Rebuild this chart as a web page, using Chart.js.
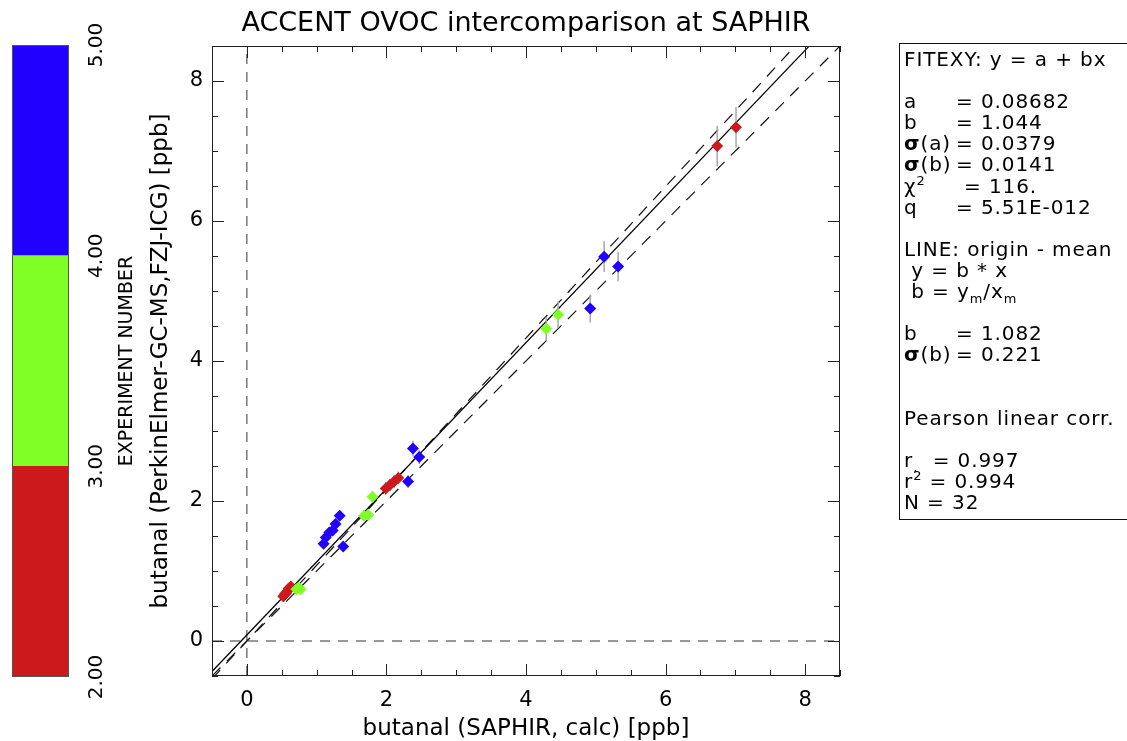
<!DOCTYPE html>
<html lang="en">
    <head>
        <title> ACCENT OVOC intercomparison at SAPHIR </title>

        <script src="https://cdn.jsdelivr.net/npm/chart.js@4.4.0/dist/chart.umd.min.js"></script>
        <style>
            body { margin: 0; width: 1127px; height: 741px; overflow: hidden; background: #fff; }
            #colorBar { position: absolute; left: 0; top: 0; }
            #scatter { position: absolute; left: 140px; top: 0; }
            #fitBox {
                position: absolute; left: 899px; top: 43px; width: 260px; height: 470px;
                border: 1px solid #111; padding: 5px 0 0 4px;
                font-family: 'DejaVu Sans', sans-serif; font-size: 20px; letter-spacing: 0.9px;
                line-height: 21.1px; color: #000;
                white-space: pre;
            }
            #fitBox .l { display: inline-block; width: 52px; }
            #fitBox .w { display: inline-block; width: 60px; }
            #fitBox b { font-weight: bold; }
            #fitBox sub, #fitBox sup { font-size: 13px; line-height: 0; }
        </style>

        <script defer>

            // experiment number -> colour bins (colour bar)
            const expBins = [2, 3, 4, 5];
            const expColors = ['#cc1a1c', '#80ff26', '#2200ff'];

            // butanal, SAPHIR calc (x) vs PerkinElmer GC-MS (y), ppb
            const saphirX = [0.52, 0.55, 0.58, 0.60, 0.63, 0.71, 0.74, 0.77,
                             1.10, 1.13, 1.18, 1.23, 1.27, 1.33, 1.38,
                             1.68, 1.74, 1.80, 1.99, 2.05, 2.11, 2.17,
                             2.31, 2.38, 2.47, 4.29, 4.46, 4.92, 5.12, 5.32,
                             6.74, 7.01];
            const gcmsY   = [0.64, 0.68, 0.71, 0.75, 0.78, 0.74, 0.76, 0.74,
                             1.39, 1.48, 1.55, 1.58, 1.67, 1.79, 1.35,
                             1.79, 1.80, 2.06, 2.18, 2.23, 2.28, 2.33,
                             2.28, 2.75, 2.63, 4.46, 4.66, 4.75, 5.49, 5.35,
                             7.07, 7.34];
            const gcmsErr = [0.03, 0.03, 0.03, 0.03, 0.03, 0.03, 0.03, 0.03,
                             0.06, 0.06, 0.06, 0.06, 0.07, 0.07, 0.05,
                             0.07, 0.07, 0.08, 0.09, 0.09, 0.09, 0.09,
                             0.09, 0.11, 0.10, 0.17, 0.19, 0.20, 0.22, 0.21,
                             0.29, 0.29];
            const expNo   = [2, 2, 2, 2, 2, 3, 3, 3,
                             4, 4, 4, 4, 4, 4, 4,
                             3, 3, 3, 2, 2, 2, 2,
                             4, 4, 4, 3, 3, 4, 4, 4,
                             2, 2];

            // fit results
            const fitA = 0.08682;
            const fitB = 1.044;
            const originB = 1.082;

            const axisRange = [-0.5, 8.5];
            const xTicks = [0, 2, 4, 6, 8];
            const yTicks = [0, 2, 4, 6, 8];
            const minorStep = 0.5;

            const chartTitle = 'ACCENT OVOC intercomparison at SAPHIR';
            const xTitle = 'butanal (SAPHIR, calc) [ppb]';
            const yTitle = 'butanal (PerkinElmer-GC-MS,FZJ-ICG) [ppb]';
            const barTitle = 'EXPERIMENT NUMBER';

            const family = "'DejaVu Sans', sans-serif";

            function binColor (e) {
                for (let i = 0; i < expColors.length; i++) {
                    if (e >= expBins[i] && e < expBins[i + 1]) return expColors[i];
                }
                return expColors[expColors.length - 1];
            }

            function lineThrough (a, b) {
                return axisRange.map(v => ({ x: v, y: a + b * v }));
            }

            // gray vertical error bars, under the markers
            const errorBars = {
                id: 'errorBars',
                beforeDatasetDraw (chart, args) {
                    if (args.index !== 0) return;
                    const { ctx, scales: { x, y } } = chart;
                    ctx.save();
                    ctx.strokeStyle = '#a9a9a9';
                    ctx.lineWidth = 1.5;
                    ctx.beginPath();
                    saphirX.forEach((xv, i) => {
                        const px = x.getPixelForValue(xv);
                        ctx.moveTo(px, y.getPixelForValue(gcmsY[i] - gcmsErr[i]));
                        ctx.lineTo(px, y.getPixelForValue(gcmsY[i] + gcmsErr[i]));
                    });
                    ctx.stroke();
                    ctx.restore();
                }
            };

            // box around the plot with inward ticks on all four sides
            const frameTicks = {
                id: 'frameTicks',
                afterDatasetsDraw (chart) {
                    const { ctx, chartArea: a, scales: { x, y } } = chart;
                    ctx.save();
                    ctx.strokeStyle = '#222';
                    ctx.lineWidth = 1;
                    ctx.strokeRect(a.left + 0.5, a.top + 0.5, a.width - 1, a.height - 1);
                    ctx.beginPath();
                    for (let v = axisRange[0]; v <= axisRange[1] + 1e-9; v += minorStep) {
                        const lenX = xTicks.includes(v) ? 12 : 6;
                        const lenY = yTicks.includes(v) ? 12 : 6;
                        const px = Math.round(x.getPixelForValue(v)) + 0.5;
                        const py = Math.round(y.getPixelForValue(v)) + 0.5;
                        ctx.moveTo(px, a.bottom); ctx.lineTo(px, a.bottom - lenX);
                        ctx.moveTo(px, a.top); ctx.lineTo(px, a.top + lenX);
                        ctx.moveTo(a.left, py); ctx.lineTo(a.left + lenY, py);
                        ctx.moveTo(a.right, py); ctx.lineTo(a.right - lenY, py);
                    }
                    ctx.stroke();
                    ctx.restore();
                }
            };

            // colour bar outline and rotated title
            const barDecor = {
                id: 'barDecor',
                afterDraw (chart) {
                    const { ctx, chartArea: a } = chart;
                    ctx.save();
                    ctx.strokeStyle = '#555';
                    ctx.lineWidth = 1;
                    ctx.strokeRect(a.left + 0.5, a.top + 0.5, a.width - 1, a.height - 1);
                    ctx.translate(127, (a.top + a.bottom) / 2);
                    ctx.rotate(-Math.PI / 2);
                    ctx.fillStyle = '#000';
                    ctx.font = '19px ' + family;
                    ctx.textAlign = 'center';
                    ctx.textBaseline = 'middle';
                    ctx.fillText(barTitle, 0, 0);
                    ctx.restore();
                }
            };

            window.addEventListener('load', () => {

                new Chart(document.getElementById('colorBar'), {
                    type: 'bar',
                    data: {
                        labels: ['exp'],
                        datasets: expColors.map((c, i) => ({
                            data: [[expBins[i], expBins[i + 1]]],
                            backgroundColor: c,
                            borderWidth: 0,
                            grouped: false,
                            barPercentage: 1,
                            categoryPercentage: 1
                        }))
                    },
                    options: {
                        responsive: false,
                        animation: false,
                        layout: { padding: { left: 12, top: 45, bottom: 64, right: 0 } },
                        plugins: { legend: { display: false }, tooltip: { enabled: false } },
                        scales: {
                            x: { display: false },
                            y: {
                                position: 'right',
                                min: expBins[0],
                                max: expBins[expBins.length - 1],
                                afterBuildTicks: s => { s.ticks = expBins.map(v => ({ value: v })); },
                                afterFit: s => { s.width = 81; },
                                grid: { display: false, drawTicks: false },
                                border: { display: false },
                                ticks: {
                                    color: '#000',
                                    font: { family, size: 20 },
                                    padding: 6,
                                    minRotation: 90,
                                    maxRotation: 90,
                                    crossAlign: 'center',
                                    callback: v => Number(v).toFixed(2)
                                }
                            }
                        }
                    },
                    plugins: [barDecor]
                });

                new Chart(document.getElementById('scatter'), {
                    type: 'scatter',
                    data: {
                        datasets: [
                            {
                                data: saphirX.map((v, i) => ({ x: v, y: gcmsY[i] })),
                                pointStyle: 'rectRot',
                                pointRadius: 6,
                                pointBorderWidth: 0,
                                pointBackgroundColor: expNo.map(binColor)
                            },
                            {
                                type: 'line',
                                data: lineThrough(fitA, fitB),
                                borderColor: '#000',
                                borderWidth: 1.2,
                                pointRadius: 0
                            },
                            {
                                type: 'line',
                                data: lineThrough(0, originB),
                                borderColor: '#111',
                                borderWidth: 1.2,
                                borderDash: [12, 9],
                                pointRadius: 0
                            },
                            {
                                type: 'line',
                                data: lineThrough(0, 1),
                                borderColor: '#111',
                                borderWidth: 1.2,
                                borderDash: [12, 9],
                                pointRadius: 0
                            },
                            {
                                type: 'line',
                                data: axisRange.map(v => ({ x: 0, y: v })),
                                borderColor: '#333',
                                borderWidth: 1,
                                borderDash: [10, 8],
                                pointRadius: 0
                            },
                            {
                                type: 'line',
                                data: axisRange.map(v => ({ x: v, y: 0 })),
                                borderColor: '#333',
                                borderWidth: 1,
                                borderDash: [10, 8],
                                pointRadius: 0
                            }
                        ]
                    },
                    options: {
                        responsive: false,
                        animation: false,
                        layout: { padding: { left: 0, right: 60, top: 0, bottom: 0 } },
                        plugins: {
                            legend: { display: false },
                            tooltip: { enabled: false },
                            title: {
                                display: true,
                                fullSize: false,
                                text: chartTitle,
                                color: '#000',
                                font: { family, size: 27, weight: 'normal', lineHeight: 1.2 },
                                padding: { top: 8, bottom: 5.6 }
                            }
                        },
                        scales: {
                            x: {
                                type: 'linear',
                                min: axisRange[0],
                                max: axisRange[1],
                                afterBuildTicks: s => { s.ticks = xTicks.map(v => ({ value: v })); },
                                afterFit: s => { s.height = 65; },
                                grid: { display: false, drawTicks: false },
                                border: { display: false },
                                ticks: { color: '#000', font: { family, size: 21 }, padding: 12 },
                                title: {
                                    display: true,
                                    text: xTitle,
                                    color: '#000',
                                    font: { family, size: 23, lineHeight: 1 },
                                    padding: 0
                                }
                            },
                            y: {
                                type: 'linear',
                                min: axisRange[0],
                                max: axisRange[1],
                                afterBuildTicks: s => { s.ticks = yTicks.map(v => ({ value: v })); },
                                afterFit: s => { s.width = 72; },
                                grid: { display: false, drawTicks: false },
                                border: { display: false },
                                ticks: { color: '#000', font: { family, size: 21 }, padding: 9 },
                                title: {
                                    display: true,
                                    text: yTitle,
                                    color: '#000',
                                    font: { family, size: 23, lineHeight: 1 },
                                    padding: 10
                                }
                            }
                        }
                    },
                    plugins: [errorBars, frameTicks]
                });
            });

        </script>
    </head>

    <body>
        <canvas id="colorBar" width="150" height="741"></canvas>
        <canvas id="scatter" width="760" height="741"></canvas>
        <div id="fitBox">FITEXY: y = a + bx

<span class="l">a</span>= 0.08682
<span class="l">b</span>= 1.044
<span class="l"><b>σ</b>(a)</span>= 0.0379
<span class="l"><b>σ</b>(b)</span>= 0.0141
<span class="w">χ<sup>2</sup></span>= 116.
<span class="l">q</span>= 5.51E-012

LINE: origin - mean
 y = b * x
 b = y<sub>m</sub>/x<sub>m</sub>

<span class="l">b</span>= 1.082
<span class="l"><b>σ</b>(b)</span>= 0.221


Pearson linear corr.

r<sub>,</sub>  = 0.997
r<sup>2</sup> = 0.994
N = 32</div>
    </body>
</html>
